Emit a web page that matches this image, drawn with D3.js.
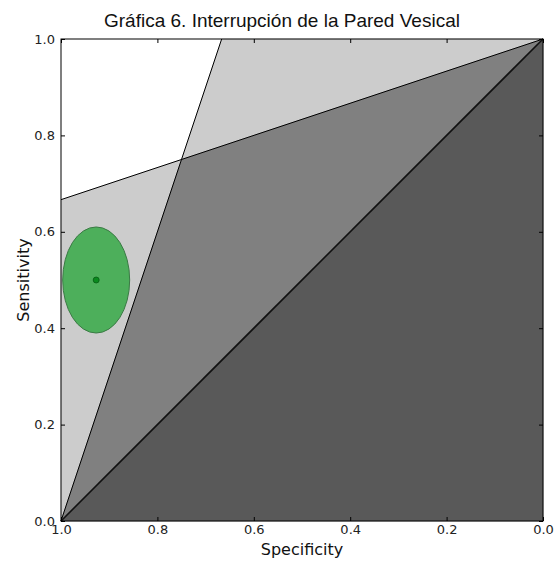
<!DOCTYPE html>
<html>
<head>
<meta charset="utf-8">
<script src="https://cdn.jsdelivr.net/npm/d3@7"></script>
<style>
  body { margin: 0; background: #fff; }
  svg { display: block; }
</style>
</head>
<body>
<svg id="chart" width="558" height="570"></svg>
<script>
// Likelihood-ratio reference lines and the study estimate
const lrPositive = [3];          // slope of the steep line through (spec 1, sens 0)
const lrNegative = [1 / 3];      // line through (spec 0, sens 1)
const pointSpec = [0.927];
const pointSens = [0.5];
const ciHalfSpec = [0.0695];     // half-width of the confidence ellipse (specificity)
const ciHalfSens = [0.11];       // half-height of the confidence ellipse (sensitivity)
const tickValues = [0, 0.2, 0.4, 0.6, 0.8, 1.0];

const svg = d3.select("#chart");
const m = { left: 61, top: 39, right: 543, bottom: 521 };

const x = d3.scaleLinear().domain([1, 0]).range([m.left, m.right]);
const y = d3.scaleLinear().domain([0, 1]).range([m.bottom, m.top]);

// helpers in (specificity, sensitivity)
const lp = lrPositive[0], ln = lrNegative[0];
// positive line: sens = lp * (1 - spec); reaches sens 1 at spec = 1 - 1/lp
const posTop = 1 - 1 / lp;
// negative line: 1 - sens = ln * spec; at spec 1 sens = 1 - ln
const negLeft = 1 - ln;
// intersection: lp*(1-s) = 1 - ln*s
const sI = (lp - 1) / (lp - ln);
const yI = lp * (1 - sI);

const regions = [
  { pts: [[1, 1], [posTop, 1], [sI, yI], [1, negLeft]], fill: "#ffffff" },
  { pts: [[1, 0], [sI, yI], [1, negLeft]], fill: "#cccccc" },
  { pts: [[sI, yI], [posTop, 1], [0, 1]], fill: "#cccccc" },
  { pts: [[1, 0], [sI, yI], [0, 1]], fill: "#808080" },
  { pts: [[1, 0], [0, 1], [0, 0]], fill: "#595959" }
];

const line = d3.line().x(d => x(d[0])).y(d => y(d[1]));

svg.append("g").selectAll("path").data(regions).join("path")
  .attr("d", d => line(d.pts) + "Z")
  .attr("fill", d => d.fill)
  .attr("stroke", d => d.fill)
  .attr("stroke-width", 0.5);

// reference lines
svg.append("path").attr("d", line([[1, 0], [posTop, 1]]))
  .attr("stroke", "#000").attr("stroke-width", 1).attr("fill", "none");
svg.append("path").attr("d", line([[1, negLeft], [0, 1]]))
  .attr("stroke", "#000").attr("stroke-width", 1).attr("fill", "none");
svg.append("path").attr("d", line([[1, 0], [0, 1]]))
  .attr("stroke", "#111").attr("stroke-width", 1.6).attr("fill", "none");

// confidence ellipse and point estimate
svg.append("ellipse")
  .attr("cx", x(pointSpec[0])).attr("cy", y(pointSens[0]))
  .attr("rx", Math.abs(x(pointSpec[0] - ciHalfSpec[0]) - x(pointSpec[0])))
  .attr("ry", Math.abs(y(pointSens[0] + ciHalfSens[0]) - y(pointSens[0])))
  .attr("fill", "#4daf5b").attr("stroke", "#3a7a44").attr("stroke-width", 1);
svg.append("circle")
  .attr("cx", x(pointSpec[0])).attr("cy", y(pointSens[0]))
  .attr("r", 3).attr("fill", "#0a8a1e").attr("stroke", "#055c12").attr("stroke-width", 0.8);

// axes with inward ticks on all sides
const fmt = d3.format(".1f");
const tickFont = "DejaVu Sans";
const gB = svg.append("g").attr("transform", `translate(0,${m.bottom})`)
  .call(d3.axisBottom(x).tickValues(tickValues).tickFormat(fmt).tickSizeInner(-4).tickSizeOuter(0).tickPadding(5));
const gL = svg.append("g").attr("transform", `translate(${m.left},0)`)
  .call(d3.axisLeft(y).tickValues(tickValues).tickFormat(fmt).tickSizeInner(-4).tickSizeOuter(0).tickPadding(6));
const gT = svg.append("g").attr("transform", `translate(0,${m.top})`)
  .call(d3.axisTop(x).tickValues(tickValues).tickFormat("").tickSizeInner(-4).tickSizeOuter(0));
const gR = svg.append("g").attr("transform", `translate(${m.right},0)`)
  .call(d3.axisRight(y).tickValues(tickValues).tickFormat("").tickSizeInner(-4).tickSizeOuter(0));
[gB, gL, gT, gR].forEach(g => {
  g.select(".domain").remove();
  g.selectAll(".tick line").attr("stroke", "#000");
  g.selectAll("text").attr("font-family", tickFont).attr("font-size", 13).attr("fill", "#222");
});
gB.selectAll("text").attr("dy", "0.6em");

// frame
svg.append("rect").attr("x", m.left).attr("y", m.top)
  .attr("width", m.right - m.left).attr("height", m.bottom - m.top)
  .attr("fill", "none").attr("stroke", "#000").attr("stroke-width", 1);

// labels
svg.append("text").attr("x", 104).attr("y", 27)
  .attr("text-anchor", "start").attr("font-family", "Liberation Sans, Arial, sans-serif")
  .attr("font-size", 19).attr("fill", "#111").text("Gráfica 6. Interrupción de la Pared Vesical");
svg.append("text").attr("x", (m.left + m.right) / 2).attr("y", 555)
  .attr("text-anchor", "middle").attr("font-family", "DejaVu Sans")
  .attr("font-size", 16).attr("fill", "#111").text("Specificity");
svg.append("text").attr("transform", `translate(29,${(m.top + m.bottom) / 2}) rotate(-90)`)
  .attr("text-anchor", "middle").attr("font-family", "DejaVu Sans")
  .attr("font-size", 16).attr("fill", "#111").text("Sensitivity");
</script>
</body>
</html>
